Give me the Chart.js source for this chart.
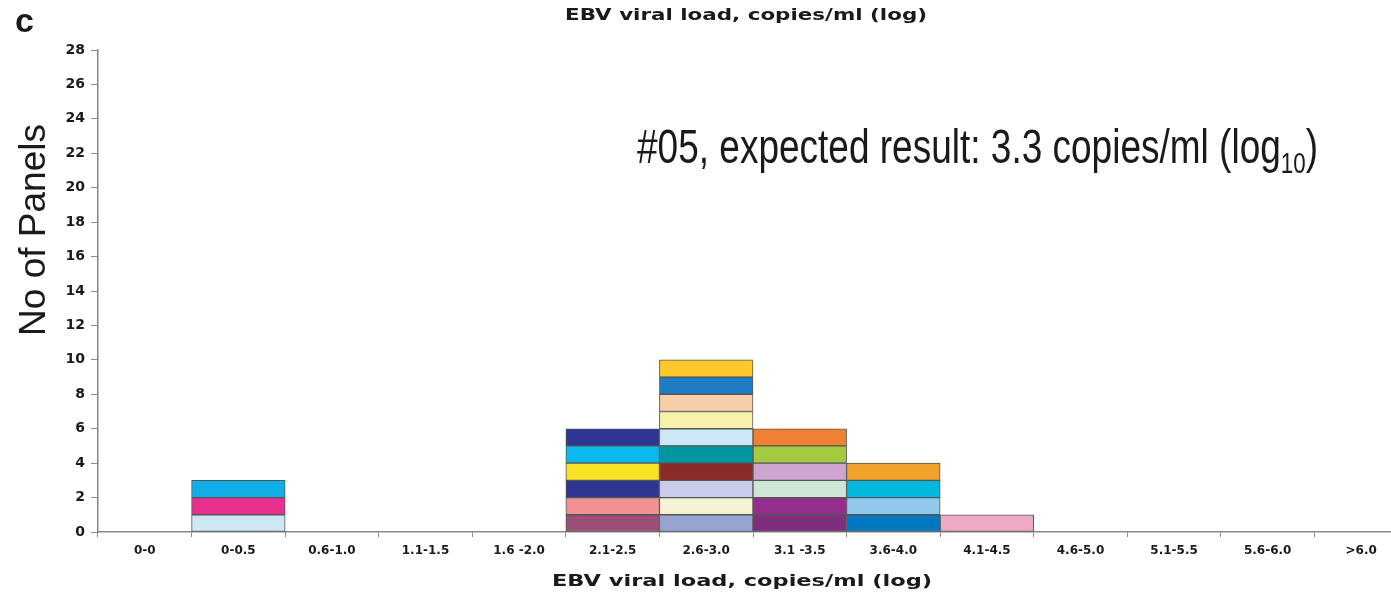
<!DOCTYPE html>
<html>
<head>
<meta charset="utf-8">
<title>EBV viral load</title>
<script src="https://cdn.jsdelivr.net/npm/chart.js@4.4.1/dist/chart.umd.min.js"></script>
<style>
  html, body { margin: 0; padding: 0; background: #fff; overflow: hidden; }
  #wrap { width: 1410px; height: 599px; }
</style>
</head>
<body>
<div id="wrap"><canvas id="panels" width="1410" height="599"></canvas></div>
<script>
// viral load bins and number of panels reporting in each
const categories = ['0-0', '0-0.5', '0.6-1.0', '1.1-1.5', '1.6 -2.0', '2.1-2.5', '2.6-3.0',
    '3.1 -3.5', '3.6-4.0', '4.1-4.5', '4.6-5.0', '5.1-5.5', '5.6-6.0', '>6.0'];
const panelCounts = [0, 3, 0, 0, 0, 6, 10, 6, 4, 1, 0, 0, 0, 0];
const yTicks = [0, 2, 4, 6, 8, 10, 12, 14, 16, 18, 20, 22, 24, 26, 28];

// one colour per panel block, bottom to top, per bin
const blockColors = [
    [],
    ['#cde8f3', '#e8318e', '#10aee6'],
    [], [], [],
    ['#9c5078', '#f09292', '#2e3592', '#f8e424', '#0bb9ef', '#2e3592'],
    ['#97a3d1', '#f4f1d5', '#c9cde9', '#8b2b27', '#0097a0', '#cce8f4', '#f8f1aa', '#f6cea9', '#1f7cc2', '#fcc82a'],
    ['#7c2e7c', '#942d8d', '#cde6d6', '#cea4d0', '#a5c93f', '#f08132'],
    ['#0078c0', '#92c8eb', '#00b7dd', '#f1a22b'],
    ['#f0a9c5'],
    [], [], [], []
];

const maxStack = Math.max(...panelCounts);
const datasets = [];
for (let level = 0; level < maxStack; level++){
    datasets.push({
        label: 'panel ' + (level + 1),
        data: panelCounts.map(n => n > level ? 1 : null),
        backgroundColor: blockColors.map(c => c[level] || '#fff'),
        borderColor: '#555',
        borderWidth: 1,
        borderSkipped: false,
        barPercentage: 1,
        categoryPercentage: 1
    });
}

// draw text squeezed/stretched horizontally to a target width
function fitText(ctx, text, x, y, width, font, align){
    ctx.save();
    ctx.font = font;
    const w = ctx.measureText(text).width;
    const sx = width / w;
    let x0 = x;
    if (align === 'center') x0 = x - width / 2;
    ctx.translate(x0, y);
    ctx.scale(sx, 1);
    ctx.textAlign = 'left';
    ctx.fillText(text, 0, 0);
    ctx.restore();
}

const labelsPlugin = {
    id: 'labels',
    afterDraw(chart){
        const ctx = chart.ctx;
        ctx.save();
        ctx.fillStyle = '#1a1a1a';
        ctx.textBaseline = 'alphabetic';

        // panel letter
        ctx.font = 'bold 34px "Liberation Sans", Arial, sans-serif';
        ctx.fillText('c', 15, 32);

        // top and bottom titles
        fitText(ctx, 'EBV viral load, copies/ml (log)', 746, 20, 362, 'bold 15px "DejaVu Sans", sans-serif', 'center');
        fitText(ctx, 'EBV viral load, copies/ml (log)', 742, 586, 380, 'bold 16px "DejaVu Sans", sans-serif', 'center');

        // y axis title
        ctx.save();
        ctx.translate(45, 230);
        ctx.rotate(-Math.PI / 2);
        ctx.textAlign = 'center';
        ctx.font = '37px "Liberation Sans", Arial, sans-serif';
        ctx.fillText('No of Panels', 0, 0);
        ctx.restore();

        // expected result note with subscript
        const mainFont = '48px "Liberation Sans Narrow", "Liberation Sans", sans-serif';
        const subFont = '29px "Liberation Sans Narrow", "Liberation Sans", sans-serif';
        const part1 = '#05, expected result: 3.3 copies/ml (log';
        ctx.font = mainFont;
        const w1 = ctx.measureText(part1).width;
        const w3 = ctx.measureText(')').width;
        ctx.font = subFont;
        const w2 = ctx.measureText('10').width;
        const sx = 681 / (w1 + w2 + w3);
        ctx.save();
        ctx.translate(637, 163);
        ctx.scale(sx, 1);
        ctx.font = mainFont;
        ctx.fillText(part1, 0, 0);
        ctx.font = subFont;
        ctx.fillText('10', w1, 10);
        ctx.font = mainFont;
        ctx.fillText(')', w1 + w2, 0);
        ctx.restore();

        ctx.restore();
    }
};

new Chart(document.getElementById('panels'), {
    type: 'bar',
    data: { labels: categories, datasets },
    plugins: [labelsPlugin],
    options: {
        responsive: false,
        animation: false,
        layout: { padding: { top: 50, right: 2, left: 0, bottom: 0 } },
        plugins: { legend: { display: false }, tooltip: { enabled: false } },
        scales: {
            x: {
                stacked: true,
                offset: true,
                grid: { display: true, offset: true, drawOnChartArea: false, drawTicks: true, tickLength: 5, color: '#888' },
                border: { color: '#888', width: 1.5 },
                ticks: {
                    padding: 7,
                    maxRotation: 0,
                    autoSkip: false,
                    color: '#1a1a1a',
                    font: { family: '"DejaVu Sans", sans-serif', weight: 'bold', size: 12 }
                },
                afterFit(scale){ scale.height = 67; }
            },
            y: {
                stacked: true,
                min: 0,
                max: 28,
                afterBuildTicks(scale){ scale.ticks = yTicks.map(v => ({ value: v })); },
                grid: { display: true, drawOnChartArea: false, drawTicks: true, tickLength: 7, color: '#888' },
                border: { color: '#888', width: 1.5 },
                ticks: {
                    padding: 6,
                    color: '#1a1a1a',
                    font: { family: '"DejaVu Sans", sans-serif', weight: 'bold', size: 14 }
                },
                afterFit(scale){ scale.width = 98; }
            }
        }
    }
});
</script>
</body>
</html>
